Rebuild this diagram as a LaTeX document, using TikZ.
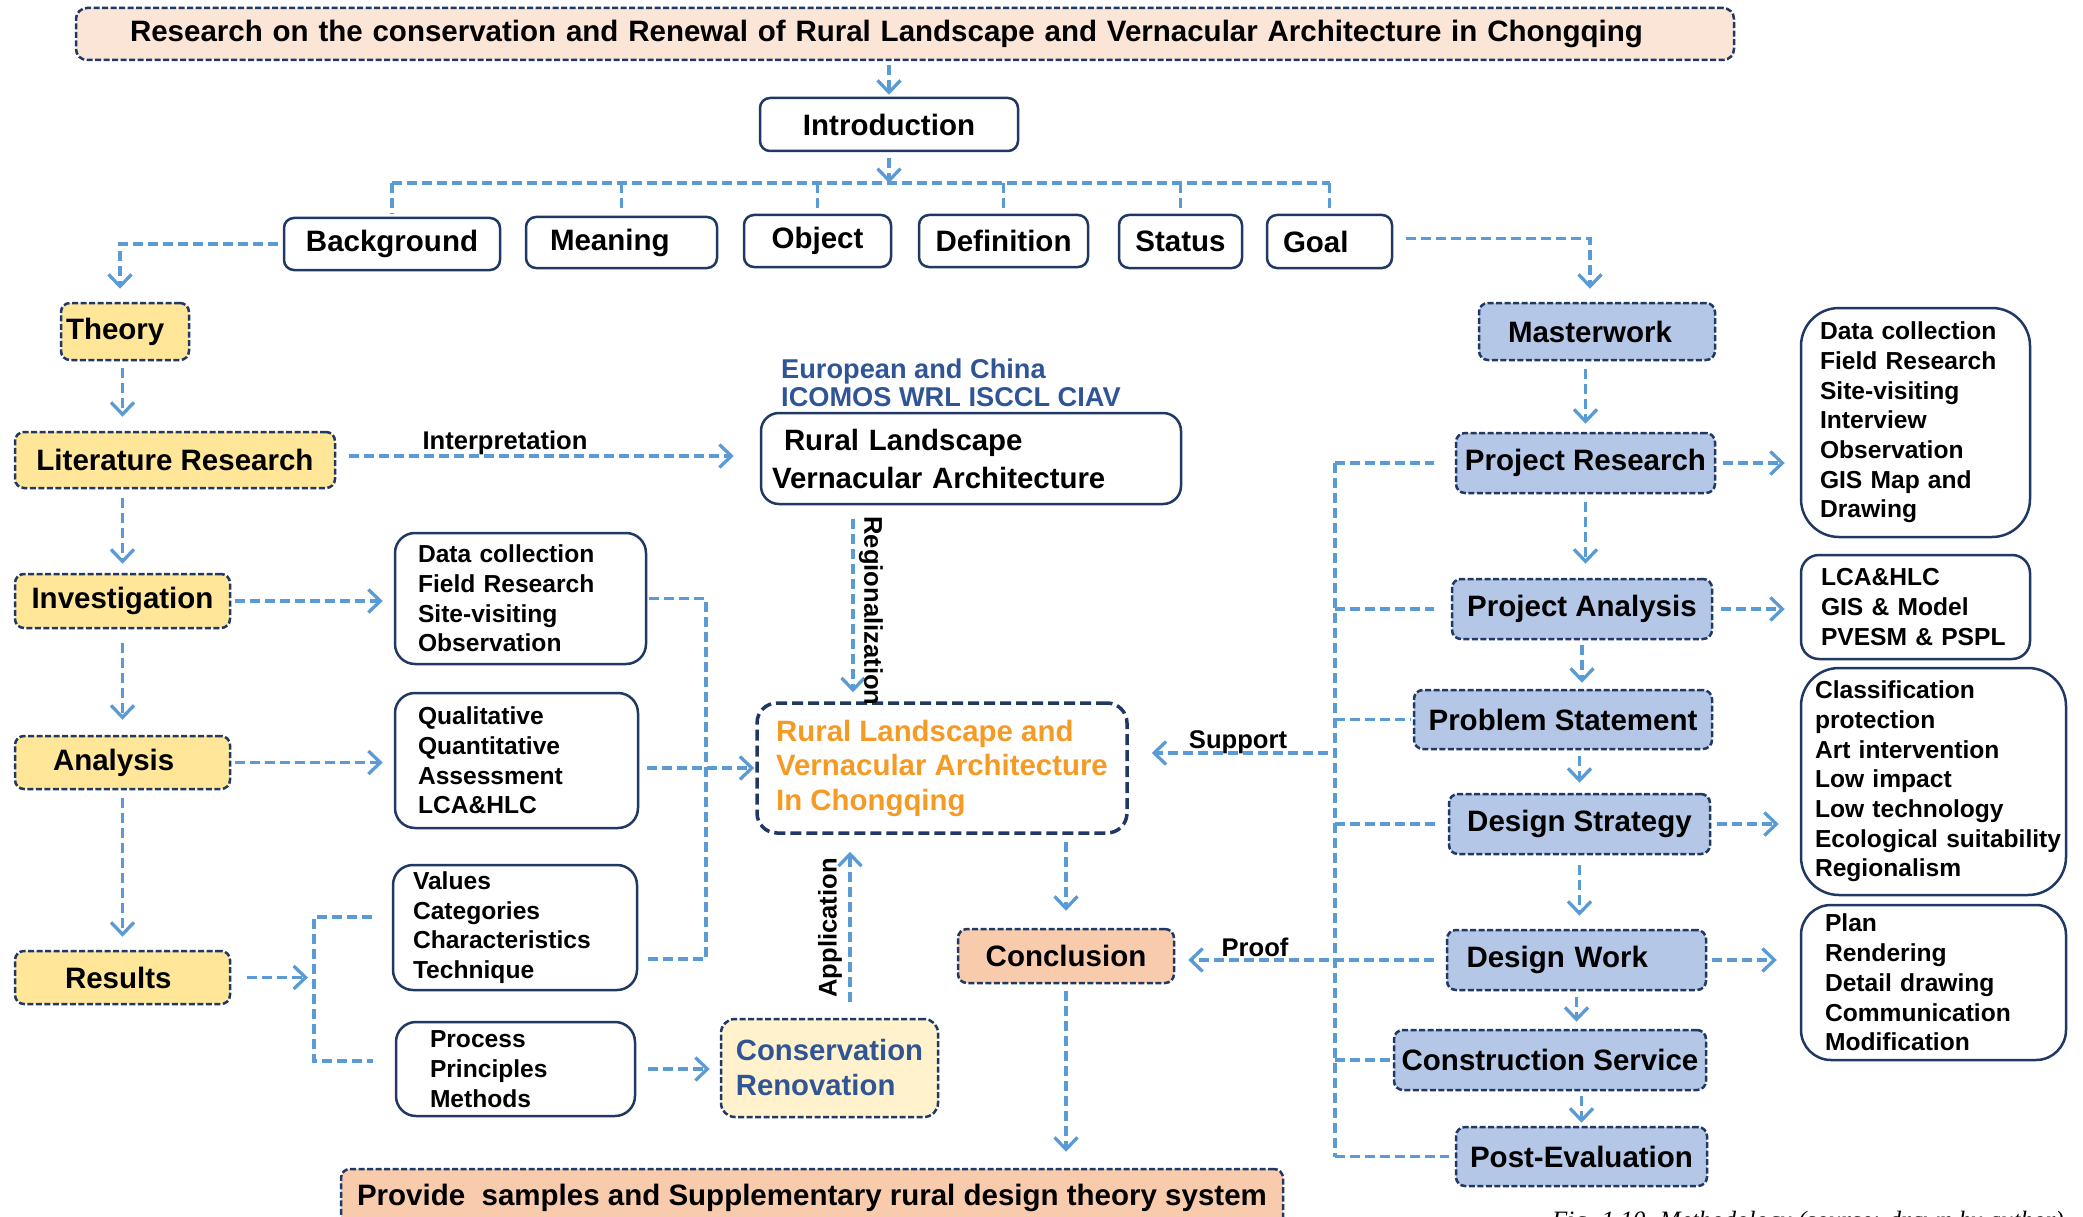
\documentclass[tikz,border=0pt]{standalone}
\usepackage{fontspec}
\setmainfont{Liberation Sans}
\newfontfamily\capfont{Liberation Serif}
\usetikzlibrary{arrows.meta,calc}
\definecolor{navy}{HTML}{203864}
\definecolor{lblue}{HTML}{5B9BD5}
\definecolor{tfill}{HTML}{FBE5D6}
\definecolor{yfill}{HTML}{FFE699}
\definecolor{bfill}{HTML}{B4C7E7}
\definecolor{pfill}{HTML}{F8CBAD}
\definecolor{cfill}{HTML}{FFF2CC}
\definecolor{otext}{HTML}{F59A23}
\definecolor{btext}{HTML}{2F5597}
\newcommand\fmain{\fontsize{29.5}{35}\selectfont\bfseries}
\newcommand\flist{\fontsize{24.6}{29.7}\selectfont\bfseries}
\newcommand\flab{\fontsize{25.6}{30}\selectfont\bfseries}
\begin{document}
\begin{tikzpicture}[x=1pt,y=-1pt,
 conn/.style={draw=lblue, line width=3.3pt, dash pattern=on 10pt off 5pt},
 arr/.style={conn, -{Straight Barb[length=12pt,width=23pt]}},
 sz/.style 2 args={minimum width=#1pt, minimum height=#2pt},
 dbox/.style={draw=navy, line width=2.5pt, dash pattern=on 6pt off 2.5pt, rounded corners=9pt, inner sep=0pt, font=\fmain},
 sbox/.style={draw=navy, line width=2.5pt, rounded corners=10pt, inner sep=0pt, fill=white, font=\fmain},
 lbox/.style={draw=navy, line width=2.5pt, rounded corners=20pt, inner ysep=0pt, align=left, fill=white, font=\flist},
 lab/.style={font=\flab, inner sep=0pt},
]
\useasboundingbox (0,0) rectangle (2083,1217);

% ---------- top ----------
\node[dbox, fill=tfill, sz={1658}{52}, text width=1550pt, inner xsep=54pt, align=left, rounded corners=11pt] (title) at (905,34)
 {\mbox{Research on the conservation and Renewal of Rural Landscape and Vernacular Architecture in Chongqing}};
\node[sbox, sz={258}{53}] (intro) at (889,124.5) {Introduction};
\node[sbox, sz={216}{52}] (bg) at (392,244) {Background};
\node[sbox, sz={191}{51}, text width=143pt, inner xsep=24pt, align=left] (mean) at (621.5,242.5) {Meaning};
\node[sbox, sz={147}{52}] (obj) at (817.5,241) {Object};
\node[sbox, sz={169}{52}] (defi) at (1003.5,241) {Definition};
\node[sbox, sz={123}{53}] (stat) at (1180.5,241.5) {Status};
\node[sbox, sz={125}{53}, text width=93pt, inner xsep=16pt, align=left] (goal) at (1329.5,241.5) {Goal};

% ---------- left column ----------
\node[dbox, fill=yfill, sz={128}{57}, text width=118pt, inner xsep=5pt, align=left] (theory) at (125,331.5) {Theory};
\node[dbox, fill=yfill, sz={320}{56}] (lit) at (175,460) {Literature Research};
\node[dbox, fill=yfill, sz={215}{54}] (inv) at (122.5,601) {Investigation};
\node[dbox, fill=yfill, sz={215}{53}, text width=139pt, inner xsep=38pt, align=left] (ana) at (122.5,762.5) {Analysis};
\node[dbox, fill=yfill, sz={215}{53}, text width=115pt, inner xsep=50pt, align=left] (res) at (122.5,977.5) {Results};

% ---------- middle lists ----------
\node[lbox, sz={251}{131}, text width=205pt, inner xsep=23pt] (la) at (520.5,598.5) {Data collection\\Field Research\\Site-visiting\\Observation};
\node[lbox, sz={243}{135}, text width=197pt, inner xsep=23pt] (lb) at (516.5,760.5) {Qualitative\\Quantitative\\Assessment\\LCA\&HLC};
\node[lbox, sz={244}{125}, text width=204pt, inner xsep=20pt] (lc) at (515,927.5) {Values\\Categories\\Characteristics\\Technique};
\node[lbox, sz={239}{94}, text width=171pt, inner xsep=34pt] (ld) at (515.5,1069) {Process\\Principles\\Methods};

% ---------- centre ----------
\node[anchor=west, align=left, text=btext, font={\fontsize{27.2}{28}\selectfont\bfseries}, inner sep=0pt] (eu) at (781,383)
 {European and China\\ICOMOS WRL ISCCL CIAV};
\node[lbox, font={\fontsize{29.4}{38}\selectfont\bfseries}, sz={420}{91}, text width=398pt, inner xsep=11pt, rounded corners=18pt] (rlva) at (971,458.5)
 {\hspace*{12pt}Rural Landscape\\Vernacular Architecture};
\node[draw=navy, line width=3.5pt, dash pattern=on 11pt off 5pt, rounded corners=20pt, fill=white, sz={370}{130}, inner sep=0pt, align=left, text=otext,
 font={\fontsize{29.4}{34.5}\selectfont\bfseries}] (central) at (942,768) {Rural Landscape and\\Vernacular Architecture\\In Chongqing};
\node[dbox, fill=cfill, sz={217}{98}, align=left, text=btext, font={\fontsize{29.3}{35}\selectfont\bfseries}, rounded corners=14pt] (cons) at (829.5,1068) {Conservation\\Renovation};
\node[dbox, fill=pfill, sz={216}{54}] (concl) at (1066,956) {Conclusion};
\node[dbox, fill=pfill, sz={942}{58}] (bot) at (812,1198) {Provide\ \ samples and Supplementary rural design theory system};

% ---------- right column ----------
\node[dbox, fill=bfill, sz={236}{57}, text width=178pt, inner xsep=29pt, align=left] (master) at (1597,331.5) {Masterwork};
\node[dbox, fill=bfill, sz={259}{60}] (pr) at (1585.5,463) {Project Research};
\node[dbox, fill=bfill, sz={260}{60}] (pa) at (1582,609) {Project Analysis};
\node[dbox, fill=bfill, sz={298}{59}] (ps) at (1563,719.5) {Problem Statement};
\node[dbox, fill=bfill, sz={261}{60}] (ds) at (1579.5,824) {Design Strategy};
\node[dbox, fill=bfill, sz={259}{60}, text width=220pt, inner xsep=19.5pt, align=left] (dw) at (1576.5,960) {Design Work};
\node[dbox, fill=bfill, sz={312}{60}] (cs) at (1550,1060) {Construction Service};
\node[dbox, fill=bfill, sz={251}{59}] (pe) at (1581.5,1156.5) {Post-Evaluation};

\node[lbox, sz={229}{229}, text width=191pt, inner xsep=19pt, rounded corners=38pt] (ra) at (1915.5,422.5)
 {Data collection\\Field Research\\Site-visiting\\Interview\\Observation\\GIS Map and\\Drawing};
\node[lbox, sz={229}{104}, text width=189pt, inner xsep=20pt, rounded corners=18pt] (rb) at (1915.5,607)
 {LCA\&HLC\\GIS \& Model\\\mbox{PVESM \& PSPL}};
\node[lbox, sz={265}{227}, text width=237pt, inner xsep=14pt, rounded corners=38pt] (rc) at (1933.5,781.5)
 {Classification\\protection\\Art intervention\\Low impact\\Low technology\\\mbox{Ecological suitability}\\Regionalism};
\node[lbox, sz={265}{155}, text width=217pt, inner xsep=24pt, rounded corners=30pt] (rd) at (1933.5,982.5)
 {Plan\\Rendering\\Detail drawing\\Communication\\Modification};

\node[anchor=base west, inner sep=0pt, font={\capfont\itshape\fontsize{25}{30}\selectfont}] (cap) at (1552,1228)
 {Fig. 1.10. Methodology (source: drawn by author)};

% ---------- connectors: top ----------
\coordinate (bus) at (889,183);
\draw[arr, shorten <=4pt, shorten >=2pt] (intro.north |- title.south) -- (intro.north);
\draw[arr, shorten <=6pt] (intro.south) -- (bus);
\draw[conn] (bg.north |- bus) -- (goal.north |- bus);
\foreach \n in {bg,mean,obj,defi,stat,goal}
  \draw[conn] (\n.north |- bus) -- ([yshift=3pt]\n.north);
\draw[arr, shorten <=5pt, shorten >=13pt] (bg.west) -| ([xshift=-5pt]theory.north);
\draw[arr, shorten <=13pt, shorten >=13pt] ([yshift=3pt]goal.east) -| ([xshift=-7pt]master.north);

% ---------- connectors: left ----------
\draw[arr, shorten <=7pt, shorten >=14pt] (theory.south -| inv) -- (lit.north -| inv);
\draw[arr, shorten <=9pt, shorten >=9pt] (lit.south -| inv) -- (inv.north);
\draw[arr, shorten <=14pt, shorten >=15pt] (inv.south) -- (ana.north);
\draw[arr, shorten <=8pt, shorten >=13pt] (ana.south) -- (res.north);
\draw[arr, shorten <=13pt, shorten >=26pt] ([yshift=4pt]lit.east) -- ([yshift=4pt]lit.east -| rlva.west);
\node[lab] (linterp) at (505,443) {Interpretation};
\draw[arr, shorten <=4pt, shorten >=11pt] (inv.east) -- (inv.east -| la.west);
\draw[arr, shorten <=4pt, shorten >=11pt] (ana.east) -- (ana.east -| lb.west);
\draw[arr, shorten <=8pt, shorten >=1pt] (central.west -| lb.east) -- (central.west);
\coordinate (jx) at (706,599);
\draw[conn, shorten <=2pt, shorten >=9pt] (la.east) -- (la.east -| jx) |- ([yshift=-31.5pt]lc.east);
\coordinate (bt) at (314,917);
\coordinate (bte) at (372,917);
\coordinate (bb) at (314,1061);
\coordinate (bbe) at (373,1061);
\draw[conn] (bte) -- (bt) -- (bb) -- (bbe);
\draw[arr, shorten <=16pt, shorten >=6pt] (res.east) -- (res.east -| bt);
\draw[arr, shorten <=12pt, shorten >=10pt] (ld.east) -- (ld.east -| cons.west);

% ---------- connectors: centre ----------
\coordinate (rg) at ([xshift=-118pt]rlva.south);
\draw[arr, shorten <=14pt, shorten >=9pt] (rg) -- (rg |- central.north);
\node[lab, rotate=-90] (lreg) at (871,611) {Regionalization};
\coordinate (ap) at ([xshift=20.5pt]cons.north);
\draw[arr, shorten <=16pt, shorten >=17pt] (ap) -- (ap |- central.south);
\node[lab, rotate=90] (lapp) at (830,928) {Application};
\draw[arr, shorten <=7pt, shorten >=17pt] (concl.north |- central.south) -- (concl.north);
\draw[arr, shorten <=7pt, shorten >=16pt] (concl.south) -- (concl.south |- bot.north);

% ---------- connectors: right ----------
\draw[arr, shorten <=8pt, shorten >=8pt] (master.south -| pr) -- (pr.north);
\draw[arr, shorten <=8pt, shorten >=14pt] (pr.south) -- (pr.south |- pa.north);
\draw[arr, shorten <=5pt, shorten >=6pt] (pa.south) -- (pa.south |- ps.north);
\draw[arr, shorten <=6pt, shorten >=10pt] (ds.north |- ps.south) -- (ds.north);
\draw[arr, shorten <=10pt, shorten >=13pt] (ds.south) -- (ds.south |- dw.north);
\draw[arr, shorten <=6pt, shorten >=7pt] (dw.south) -- (dw.south |- cs.north);
\draw[arr, shorten <=5pt, shorten >=3pt] (pe.north |- cs.south) -- (pe.north);

\draw[arr, shorten <=7pt, shorten >=15pt] (pr.east) -- (pr.east -| ra.west);
\draw[arr, shorten <=8pt, shorten >=15pt] (pa.east) -- (pa.east -| rb.west);
\draw[arr, shorten <=6pt, shorten >=21pt] (ds.east) -- (ds.east -| rc.west);
\draw[arr, shorten <=5pt, shorten >=23pt] (dw.east) -- (dw.east -| rd.west);

\coordinate (rbus) at (1335,465);
\draw[conn] (pr.west -| rbus) -- (pe.west -| rbus);
\draw[conn, shorten >=21pt] (pr.west -| rbus) -- (pr.west);
\draw[conn, shorten >=17pt] (pa.west -| rbus) -- (pa.west);
\draw[conn, shorten >=2pt] (ps.west -| rbus) -- (ps.west);
\draw[conn, shorten >=11pt] (ds.west -| rbus) -- (ds.west);
\draw[conn, shorten >=2pt] (cs.west -| rbus) -- (cs.west);
\draw[conn, shorten >=6pt] (pe.west -| rbus) -- (pe.west);
\draw[arr, shorten <=12pt, shorten >=13pt] (dw.west) -- (dw.west -| concl.east);
\node[lab] (lproof) at (1255,947) {Proof};
\coordinate (sup) at (1328,753);
\draw[arr, shorten >=23pt] (sup) -- (sup -| central.east);
\node[lab] (lsup) at (1238,742) {Support};
\end{tikzpicture}
\end{document}
